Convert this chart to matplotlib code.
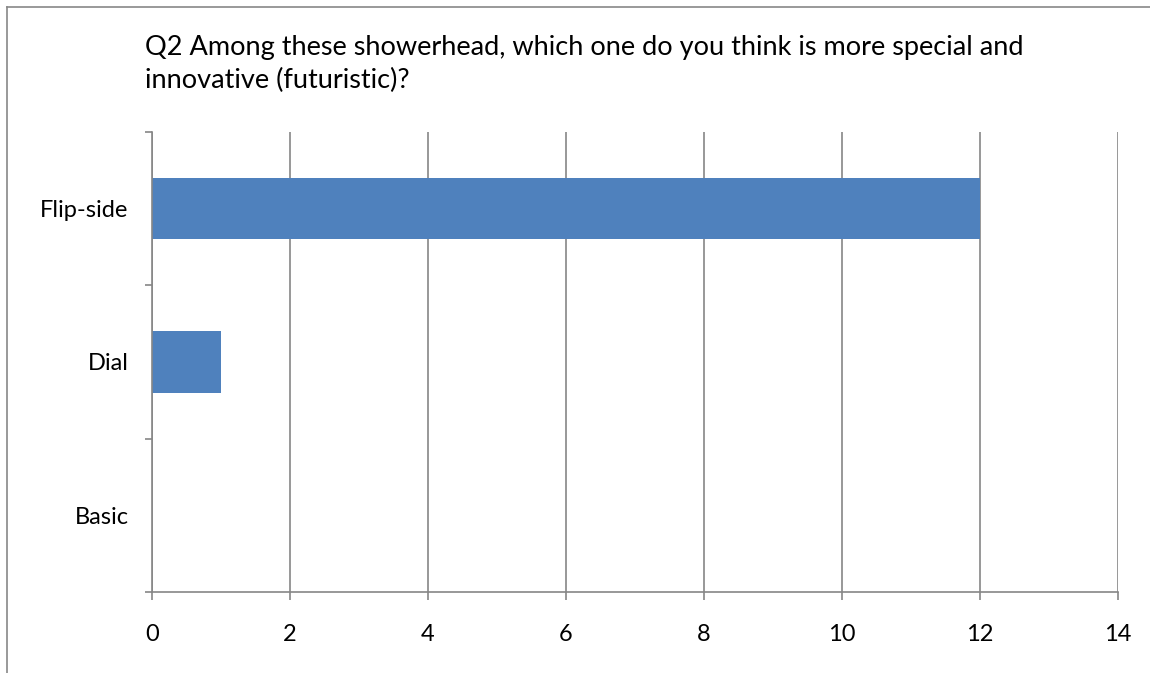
import matplotlib.pyplot as plt
from matplotlib.lines import Line2D

# survey answers
categories = ['Basic', 'Dial', 'Flip-side']
counts = [0, 1, 12]
x_ticks = [0, 2, 4, 6, 8, 10, 12, 14]
title = ('Q2 Among these showerhead, which one do you think is more special and\n'
         'innovative (futuristic)?')

W, H = 1150, 673
plt.rcParams['font.family'] = ['Lato', 'DejaVu Sans']

fig = plt.figure(figsize=(W / 100, H / 100), dpi=100)
ax = fig.add_axes([152 / W, 1 - 592 / H, (1118 - 152) / W, (592 - 132) / H])

grey = '#868686'
ax.barh(range(len(categories)), counts, height=0.4, color='#4F81BD', zorder=3)

ax.set_xlim(0, 14)
ax.set_ylim(-0.5, len(categories) - 0.5)
ax.set_xticks(x_ticks)
ax.set_yticks(range(len(categories)))
ax.set_yticklabels(categories)
ax.set_yticks([i - 0.5 for i in range(len(categories) + 1)], minor=True)

ax.grid(axis='x', color=grey, lw=1.2, zorder=1)
for s in ['top', 'right']:
    ax.spines[s].set_visible(False)
for s in ['left', 'bottom']:
    ax.spines[s].set_color(grey)
    ax.spines[s].set_linewidth(1.2)
    ax.spines[s].set_zorder(4)

ax.tick_params(axis='x', length=6, width=1.2, color=grey, pad=17, labelsize=17)
ax.tick_params(axis='y', which='major', length=0, pad=17, labelsize=17)
ax.tick_params(axis='y', which='minor', length=5, width=1.2, color=grey)

fig.text(145 / W, 1 - 35 / H, title, fontsize=19.5, ha='left', va='top', linespacing=1.38)

# outer chart border (only top and left edges fall inside the image)
fig.add_artist(Line2D([7 / W, 7 / W], [0, 1 - 7 / H], color='#888888', lw=1.2, transform=fig.transFigure))
fig.add_artist(Line2D([7 / W, 1], [1 - 7 / H, 1 - 7 / H], color='#888888', lw=1.2, transform=fig.transFigure))

fig.savefig('out.png', dpi=100)
